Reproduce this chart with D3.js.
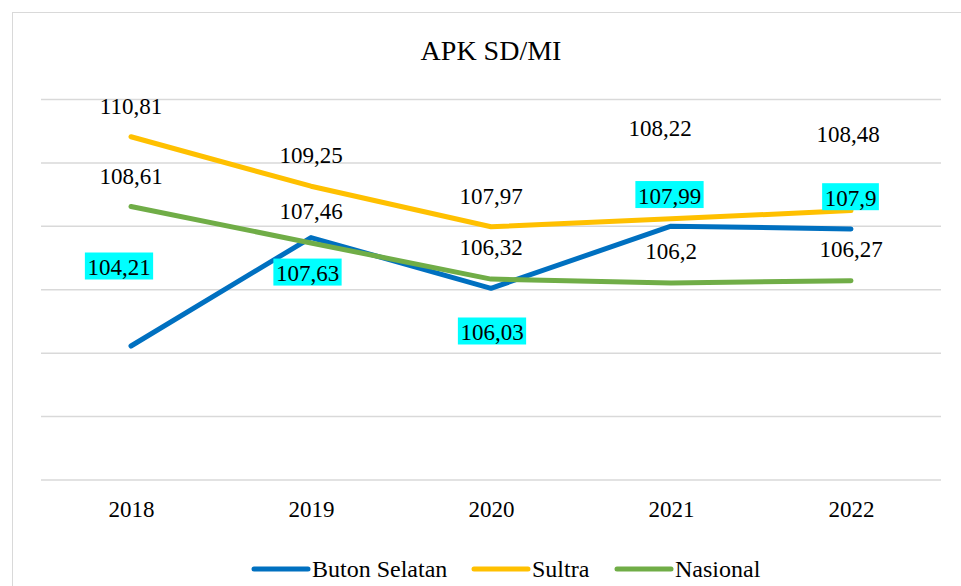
<!DOCTYPE html>
<html>
<head>
<meta charset="utf-8">
<script src="https://cdn.jsdelivr.net/npm/d3@7"></script>
<style>
  html, body { margin: 0; padding: 0; background: #fff; }
  svg { display: block; }
  svg text { fill: #000; }
</style>
</head>
<body>
<svg id="chart" width="961" height="586"></svg>
<script>
// APK SD/MI, 2018-2022
const years = ["2018", "2019", "2020", "2021", "2022"];
const butonSelatan = [104.21, 107.63, 106.03, 107.99, 107.9];
const sultra = [110.81, 109.25, 107.97, 108.22, 108.48];
const nasional = [108.61, 107.46, 106.32, 106.2, 106.27];
const seriesNames = ["Buton Selatan", "Sultra", "Nasional"];
const yTicks = [100, 102, 104, 106, 108, 110, 112];

const FONT = '"Liberation Serif", "Times New Roman", Times, "DejaVu Serif", serif';

const series = [
  { name: seriesNames[0], values: butonSelatan, color: "#0070C0", highlight: true,
    // label offsets (dx, baseline dy) from each point
    offsets: [[-12, -71], [-3.5, 43.5], [1, 51.7], [-1.5, -22.6], [-0.5, -23.3]] },
  { name: seriesNames[1], values: sultra, color: "#FFC000", highlight: false,
    offsets: [[0, -23], [0, -23], [0, -23], [-11, -83], [-3, -69]] },
  { name: seriesNames[2], values: nasional, color: "#70AD47", highlight: false,
    offsets: [[0, -22.5], [0, -23.5], [0, -24], [0, -23.7], [0, -24]] }
];

const svg = d3.select("#chart");
const plot = { left: 41, right: 941, top: 99, bottom: 479.5 };

// chart area frame
svg.append("rect")
  .attr("x", 12.5).attr("y", 12.5)
  .attr("width", 1000).attr("height", 700)
  .attr("fill", "#fff")
  .attr("stroke", "#d9d9d9").attr("stroke-width", 1);

const x = d3.scalePoint().domain(years).range([plot.left, plot.right]).padding(0.5);
const y = d3.scaleLinear().domain([100, 112]).range([plot.bottom, plot.top]);

// horizontal gridlines
const grid = svg.append("g")
  .attr("transform", `translate(${plot.left},0)`)
  .call(d3.axisLeft(y).tickValues(yTicks).tickSize(-(plot.right - plot.left)).tickFormat(""));
grid.select(".domain").remove();
grid.selectAll(".tick line").attr("stroke", "#d9d9d9").attr("stroke-width", 1.5);

// category axis labels
const xa = svg.append("g")
  .attr("transform", `translate(0,${plot.bottom})`)
  .call(d3.axisBottom(x).tickSize(0).tickPadding(0));
xa.attr("font-family", FONT).attr("font-size", 23);
xa.select(".domain").remove();
xa.selectAll(".tick text")
  .attr("y", 0).attr("dy", 0)
  .attr("transform", "translate(0,37)")
  .attr("fill", "#000");

// title
svg.append("text")
  .attr("x", 491).attr("y", 60)
  .attr("text-anchor", "middle")
  .attr("font-family", FONT)
  .attr("font-size", 28)
  .text("APK SD/MI");

// lines
const line = d3.line()
  .x((d, i) => x(years[i]))
  .y(d => y(d));

svg.append("g").selectAll("path")
  .data(series)
  .join("path")
  .attr("d", s => line(s.values))
  .attr("fill", "none")
  .attr("stroke", s => s.color)
  .attr("stroke-width", 5)
  .attr("stroke-linecap", "round")
  .attr("stroke-linejoin", "round");

// data labels
const fmt = v => String(v).replace(".", ",");
series.forEach(s => {
  const g = svg.append("g").attr("font-family", FONT).attr("font-size", 23);
  s.values.forEach((v, i) => {
    const lx = x(years[i]) + s.offsets[i][0];
    const ly = y(v) + s.offsets[i][1];
    const t = g.append("text")
      .attr("x", lx).attr("y", ly)
      .attr("text-anchor", "middle")
      .text(fmt(v));
    if (s.highlight) {
      const bb = t.node().getBBox();
      g.insert("rect", () => t.node())
        .attr("x", bb.x - 2.5).attr("y", ly - 22.5)
        .attr("width", bb.width + 5).attr("height", 27)
        .attr("fill", "#00FFFF");
    }
  });
});

// legend
const legendItems = [
  { x0: 254, color: series[0].color, name: seriesNames[0] },
  { x0: 474, color: series[1].color, name: seriesNames[1] },
  { x0: 617, color: series[2].color, name: seriesNames[2] }
];
const lg = svg.append("g").attr("font-family", FONT).attr("font-size", 24);
legendItems.forEach(d => {
  lg.append("line")
    .attr("x1", d.x0).attr("x2", d.x0 + 54)
    .attr("y1", 569).attr("y2", 569)
    .attr("stroke", d.color).attr("stroke-width", 5)
    .attr("stroke-linecap", "round");
  lg.append("text")
    .attr("x", d.x0 + 58).attr("y", 577)
    .text(d.name);
});
</script>
</body>
</html>
